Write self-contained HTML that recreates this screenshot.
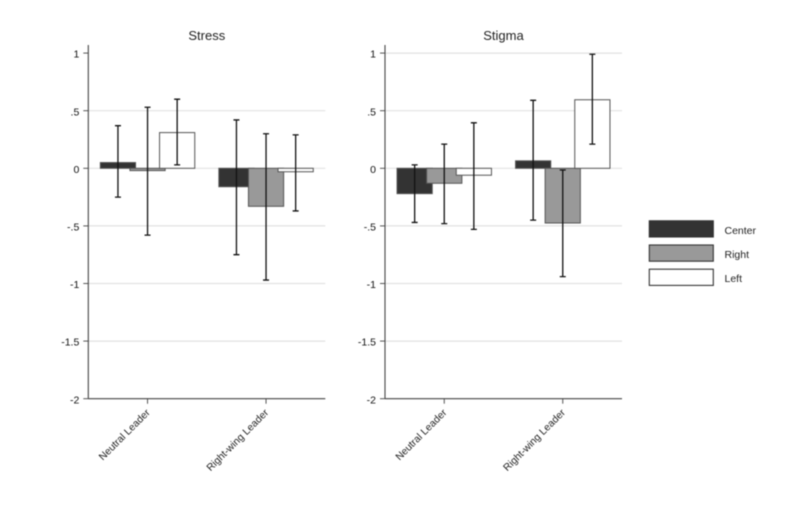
<!DOCTYPE html>
<html lang="en">
<head>
<meta charset="utf-8">
<title>Stress and Stigma by Leader Type</title>
<style>
html,body{margin:0;padding:0;background:#fff;}
svg{display:block;font-family:"Liberation Sans",Arial,sans-serif;}
</style>
</head>
<body>
<svg id="chart" width="788" height="506" viewBox="0 0 788 506" xmlns="http://www.w3.org/2000/svg">
  <rect x="0" y="0" width="788" height="506" fill="#ffffff"/>
  <g id="plots" style="filter:blur(0.4px)"></g>
  <g id="legend" style="filter:blur(0.4px)"></g>
</svg>
<script>
const categories = ['Neutral Leader', 'Right-wing Leader'];
const seriesNames = ['Center', 'Right', 'Left'];
const yTickValues = [1, 0.5, 0, -0.5, -1, -1.5, -2];
const yTickLabels = ['1', '.5', '0', '-.5', '-1', '-1.5', '-2'];

const stressMeans = [[0.05, -0.02, 0.31], [-0.16, -0.33, -0.03]];
const stressLower = [[-0.25, -0.58, 0.03], [-0.75, -0.97, -0.37]];
const stressUpper = [[0.37, 0.53, 0.60], [0.42, 0.30, 0.29]];

const stigmaMeans = [[-0.22, -0.13, -0.06], [0.065, -0.475, 0.595]];
const stigmaLower = [[-0.47, -0.48, -0.53], [-0.45, -0.94, 0.21]];
const stigmaUpper = [[0.03, 0.21, 0.395], [0.59, -0.015, 0.99]];

const fills = { Center: '#333333', Right: '#999999', Left: '#ffffff' };
const SVG_NS = 'http://www.w3.org/2000/svg';
const plotsRoot = document.getElementById('plots');
const legendRoot = document.getElementById('legend');
const plotTop = 45;
const plotWidth = 237;
const barWidth = 35.2;
const barStep = 29.6;

function make(parent, tag, attrs, text) {
  const el = document.createElementNS(SVG_NS, tag);
  for (const key in attrs) el.setAttribute(key, attrs[key]);
  if (text !== undefined) el.textContent = text;
  parent.appendChild(el);
  return el;
}
function yScale(v) { return 168.3 - v * 115.2; }

function drawPanel(title, slug, left, means, lower, upper, gridValues) {
  const xCat = i => left + plotWidth * (i * 2 + 1) / 4;
  const panel = make(plotsRoot, 'g', {});
  
  

  const titleEl = make(panel, 'text', { x: left + plotWidth / 2, y: 40, 'text-anchor': 'middle', 'font-size': 13, fill: '#222' }, title);
  
  

  yTickValues.forEach((v, i) => {
    const y = yScale(v);
    if (gridValues.includes(v)) {
      const grid = make(panel, 'line', { x1: left, x2: left + plotWidth, y1: y, y2: y, stroke: '#e2e2e2', 'stroke-width': 1.2 });
      
      
    }
    const tick = make(panel, 'line', { x1: left - 5, x2: left, y1: y, y2: y, stroke: '#444', 'stroke-width': 0.9 });
    
    
    const label = make(panel, 'text', { x: left - 9, y: y + 4.6, 'text-anchor': 'end', 'font-size': 10.5, fill: '#111' }, yTickLabels[i]);
    
    
  });

  means.forEach((group, c) => {
    group.forEach((m, s) => {
      const x = xCat(c) + (s - 1) * barStep;
      const y0 = yScale(0);
      const ym = yScale(m);
      const bar = make(panel, 'rect', {
        x: x - barWidth / 2, y: Math.min(y0, ym), width: barWidth, height: Math.abs(y0 - ym),
        fill: fills[seriesNames[s]], stroke: '#555', 'stroke-width': 1
      });
      
      
    });
  });
  means.forEach((group, c) => {
    group.forEach((m, s) => {
      const x = xCat(c) + (s - 1) * barStep;
      const yl = yScale(lower[c][s]);
      const yu = yScale(upper[c][s]);
      const err = make(panel, 'path', {
        d: 'M' + (x - 3) + ' ' + yu + 'H' + (x + 3) + 'M' + x + ' ' + yu + 'V' + yl + 'M' + (x - 3) + ' ' + yl + 'H' + (x + 3),
        fill: 'none', stroke: '#111', 'stroke-width': 1.3
      });
      
      
    });
  });

  const yAxis = make(panel, 'line', { x1: left, x2: left, y1: plotTop, y2: yScale(-2), stroke: '#444', 'stroke-width': 1.1 });
  
  
  const xAxis = make(panel, 'line', { x1: left, x2: left + plotWidth, y1: yScale(-2), y2: yScale(-2), stroke: '#444', 'stroke-width': 1.1 });
  
  

  categories.forEach((name, i) => {
    const x = xCat(i);
    const y = yScale(-2);
    const tick = make(panel, 'line', { x1: x, x2: x, y1: y, y2: y + 5, stroke: '#444', 'stroke-width': 0.9 });
    
    
    const lx = x + 3;
    const ly = y + 14.5;
    const label = make(panel, 'text', {
      x: lx, y: ly, 'text-anchor': 'end', 'font-size': 10.2, fill: '#222',
      transform: 'rotate(-45 ' + lx + ' ' + ly + ')'
    }, name);
    
    
  });
}

drawPanel('Stress', 'stress', 88.3, stressMeans, stressLower, stressUpper, [0.5, 0, -0.5, -1, -1.5]);
drawPanel('Stigma', 'stigma', 385, stigmaMeans, stigmaLower, stigmaUpper, [1, 0.5, 0, -0.5, -1, -1.5]);

seriesNames.forEach((name, i) => {
  const top = 220.8 + i * 24.2;
  const swatch = make(legendRoot, 'rect', { x: 649.3, y: top, width: 64, height: 16.2, fill: fills[name], stroke: '#333', 'stroke-width': 1.1 });
  
  
  const label = make(legendRoot, 'text', { x: 724.5, y: top + 13, 'font-size': 10.5, fill: '#222' }, name);
  
  
});
</script>
</body>
</html>
